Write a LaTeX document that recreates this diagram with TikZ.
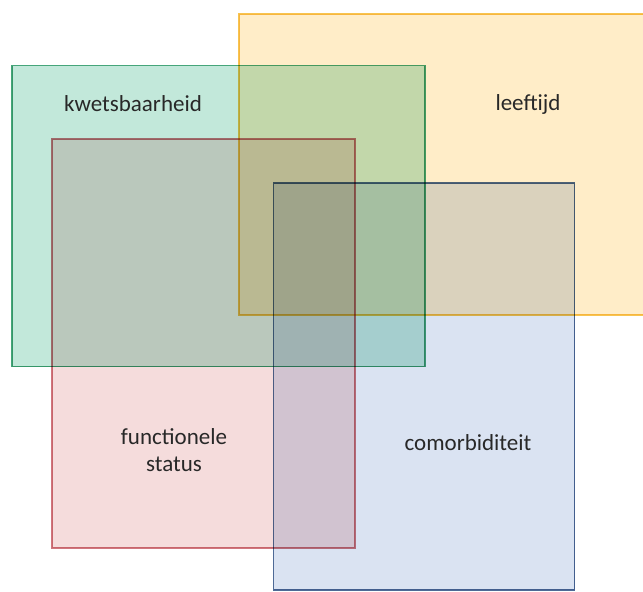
\documentclass[tikz,border=0pt]{standalone}
\usepackage{fontspec}
\setmainfont{Carlito}
\definecolor{yfill}{RGB}{255,237,200}
\definecolor{gfill}{RGB}{194,232,218}
\definecolor{rfill}{RGB}{245,220,220}
\definecolor{bfill}{RGB}{218,227,242}
\definecolor{yline}{RGB}{247,196,80}
\definecolor{gline}{RGB}{70,165,122}
\definecolor{rline}{RGB}{208,118,126}
\definecolor{bline}{RGB}{78,106,150}
\definecolor{txt}{RGB}{40,40,40}
\begin{document}
\begin{tikzpicture}[x=1pt,y=-1pt,
  setbox/.style={draw, line width=1.8pt, inner sep=0pt, outer sep=0pt, rectangle},
  lbl/.style={text=txt, font=\fontsize{23}{27}\selectfont, align=center, inner sep=0pt}]
\useasboundingbox (0,0) rectangle (643,592);
\clip (0,0) rectangle (643,592);
\begin{scope}[blend mode=multiply]
\node[setbox, draw=yline, fill=yfill, minimum width=420pt, minimum height=301pt] (age) at (449,164.5) {};
\node[setbox, draw=gline, fill=gfill, minimum width=413pt, minimum height=301pt] (frail) at (218.5,216) {};
\node[setbox, draw=rline, fill=rfill, minimum width=303pt, minimum height=409pt] (func) at (203.5,343.5) {};
\node[setbox, draw=bline, fill=bfill, minimum width=301pt, minimum height=407pt] (comor) at (424,386.5) {};
\end{scope}
\node[lbl] (tfrail) at (133,104) {kwetsbaarheid};
\node[lbl] (tage) at (528,104) {leeftijd};
\node[lbl] (tfunc) at (174,450) {functionele\\status};
\node[lbl] (tcomor) at (468,443) {comorbiditeit};
\end{tikzpicture}
\end{document}
